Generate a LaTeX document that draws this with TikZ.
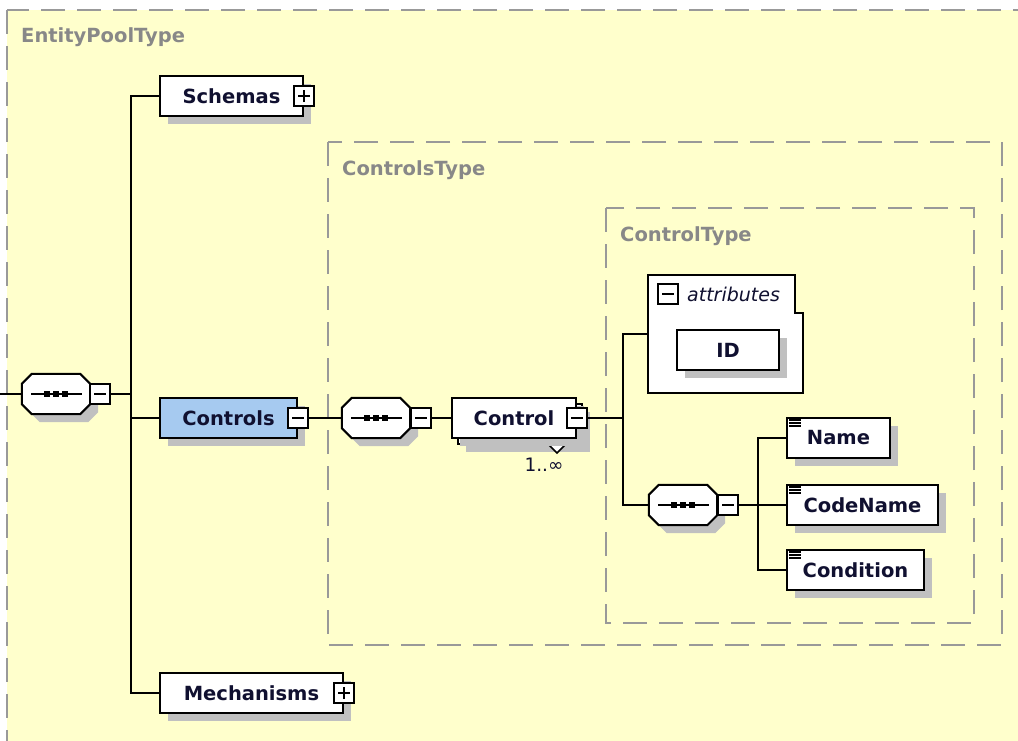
\documentclass[tikz,border=0pt]{standalone}
\usepackage{fontspec}
\setmainfont{DejaVu Sans}
\usetikzlibrary{shadows}

\definecolor{paper}{RGB}{255,255,204}
\definecolor{shadowgray}{RGB}{192,192,192}
\definecolor{frame}{RGB}{153,153,153}
\definecolor{typegray}{RGB}{136,136,136}
\definecolor{ink}{RGB}{16,16,48}
\definecolor{selblue}{RGB}{166,202,240}

% octagon outline round a placeholder node, shifted by (#2,#3)
\newcommand\octagonpath[3]{%
  ([shift={(10+#2,#3)}]#1.north west) -- ([shift={(-10+#2,#3)}]#1.north east)
  -- ([shift={(#2,10+#3)}]#1.north east) -- ([shift={(#2,-10+#3)}]#1.south east)
  -- ([shift={(-10+#2,#3)}]#1.south east) -- ([shift={(10+#2,#3)}]#1.south west)
  -- ([shift={(#2,-10+#3)}]#1.south west) -- ([shift={(#2,10+#3)}]#1.north west)
  -- cycle}

\tikzset{
  boxfont/.style={font=\bfseries\fontsize{19.5}{21}\selectfont, text=ink},
  castshadow/.style={drop shadow={shadow xshift=8pt, shadow yshift=-8pt,
    fill=shadowgray, opacity=1}},
  elem/.style={rectangle, draw, fill=white, line width=2, minimum height=40,
    inner sep=0pt, boxfont, castshadow},
  seq/.style={rectangle, minimum width=68, minimum height=40, inner sep=0pt},
  mini/.style={rectangle, draw, fill=white, line width=1.6, minimum size=20, inner sep=0pt},
  minusbox/.style={mini, path picture={
    \draw[line width=1.6] ([xshift=-6pt]path picture bounding box.center)
      -- ([xshift=6pt]path picture bounding box.center);}},
  plusbox/.style={mini, path picture={
    \draw[line width=1.6] ([xshift=-6pt]path picture bounding box.center)
      -- ([xshift=6pt]path picture bounding box.center);
    \draw[line width=1.6] ([yshift=-6pt]path picture bounding box.center)
      -- ([yshift=6pt]path picture bounding box.center);}},
  typebox/.style={draw=frame, line width=2, dash pattern=on 24pt off 12pt, fill=paper},
  typelabel/.style={anchor=west, inner sep=0pt, text=typegray,
    font=\bfseries\fontsize{19.5}{21}\selectfont},
  wire/.style={line width=2}
}

\begin{document}
\begin{tikzpicture}[x=1pt, y=-1pt]
\useasboundingbox (0,0) rectangle (1018,740);
\fill[white] (0,0) rectangle (1018,740);

%---------------- Type frames ----------------
\draw[typebox] (7,10) rectangle (1040,770);
\node[typelabel] (lblpool) at (21,37) {EntityPoolType};

\draw[typebox] (328,142) rectangle (1002,645);
\node[typelabel] (lblcontrols) at (342,170) {ControlsType};

\draw[typebox] (606,208) rectangle (974,623);
\node[typelabel] (lblcontrol) at (620,236) {ControlType};

%---------------- Sequences ----------------
\node[seq] (seq1) at (56,394) {};
\node[seq] (seq2) at (376,418) {};
\node[seq] (seq3) at (683,505) {};

\foreach \s in {seq1,seq2,seq3} {
  \fill[shadowgray] \octagonpath{\s}{8}{8};
  \draw[line width=2, fill=white] \octagonpath{\s}{0}{0};
  \draw[line width=1.6] ([xshift=-25]\s.center) -- ([xshift=26]\s.center);
  \foreach \d in {-9,0,9}
    \fill ([xshift=\d]\s.center) +(-3,-3) rectangle +(3,3);
}

\node[minusbox] (seq1m) at (100,394) {};
\node[minusbox] (seq2m) at (421,418) {};
\node[minusbox] (seq3m) at (728,505) {};

%---------------- EntityPool content ----------------
\coordinate (in) at (0,394);

\node[elem, minimum width=143] (schemas) at (231.5,96) {Schemas};
\node[plusbox] (schemasp) at (schemas.east) {};

\node[elem, minimum width=137, fill=selblue] (controls) at (228.5,418) {Controls};
\node[minusbox] (controlsm) at (controls.east) {};

\node[elem, minimum width=183] (mech) at (251.5,693) {Mechanisms};
\node[plusbox] (mechp) at (mech.east) {};

%---------------- Controls content ----------------
\node[elem, minimum width=124] (controlbk) at (520,424) {};
\draw[line width=1.6, fill=white] ([xshift=-34]controlbk.south east)
  -- ++(8,8) -- ++(8,-8);
\node[elem, minimum width=124, drop shadow={opacity=0}] (control) at (514,418) {Control};
\node[minusbox] (controlm) at (control.east) {};
\node[inner sep=0pt, text=ink, font=\fontsize{18.5}{20}\selectfont] (card) at (544,465) {1..∞};

%---------------- Control content ----------------
\node[minimum width=155, minimum height=118, inner sep=0pt] (attr) at (725.5,334) {};
\draw[line width=2, fill=white] (attr.south west) -- (attr.north west)
  -- ([xshift=-8]attr.north east) -- ([xshift=-8,yshift=-38]attr.north east)
  -- ([yshift=-38]attr.north east) -- (attr.south east) -- cycle;
\node[minusbox] (attrm) at (668,294) {};
\node[anchor=west, inner sep=0pt, text=ink, font=\itshape\fontsize{19}{21}\selectfont]
  (attrlbl) at (687,294) {attributes};
\node[elem, minimum width=102] (id) at (728,350) {ID};

\node[elem, minimum width=103] (name) at (838.5,438) {Name};
\node[elem, minimum width=151] (codename) at (862.5,505) {CodeName};
\node[elem, minimum width=137] (condition) at (855.5,570) {Condition};

\foreach \n in {name,codename,condition}
  \foreach \k in {0,3,6}
    \draw[line width=1.1] ([xshift=3,yshift=-3-\k]\n.north west) -- ++(12,0);

%---------------- Connectors ----------------
\draw[wire] (in) -- (seq1.west);
\draw[wire] (seq1m.east) -- ++(20,0) |- (schemas.west);
\draw[wire] (seq1m.east) -- ++(20,0) |- (controls.west);
\draw[wire] (seq1m.east) -- ++(20,0) |- (mech.west);

\draw[wire] (controlsm.east) -- (seq2.west);
\draw[wire] (seq2m.east) -- (control.west);

\draw[wire] (controlm.east) -- ++(35,0) |- (attr.west);
\draw[wire] (controlm.east) -- ++(35,0) |- (seq3.west);

\draw[wire] (seq3m.east) -- ++(19,0) |- (name.west);
\draw[wire] (seq3m.east) -- ++(19,0) |- (codename.west);
\draw[wire] (seq3m.east) -- ++(19,0) |- (condition.west);

\end{tikzpicture}
\end{document}
